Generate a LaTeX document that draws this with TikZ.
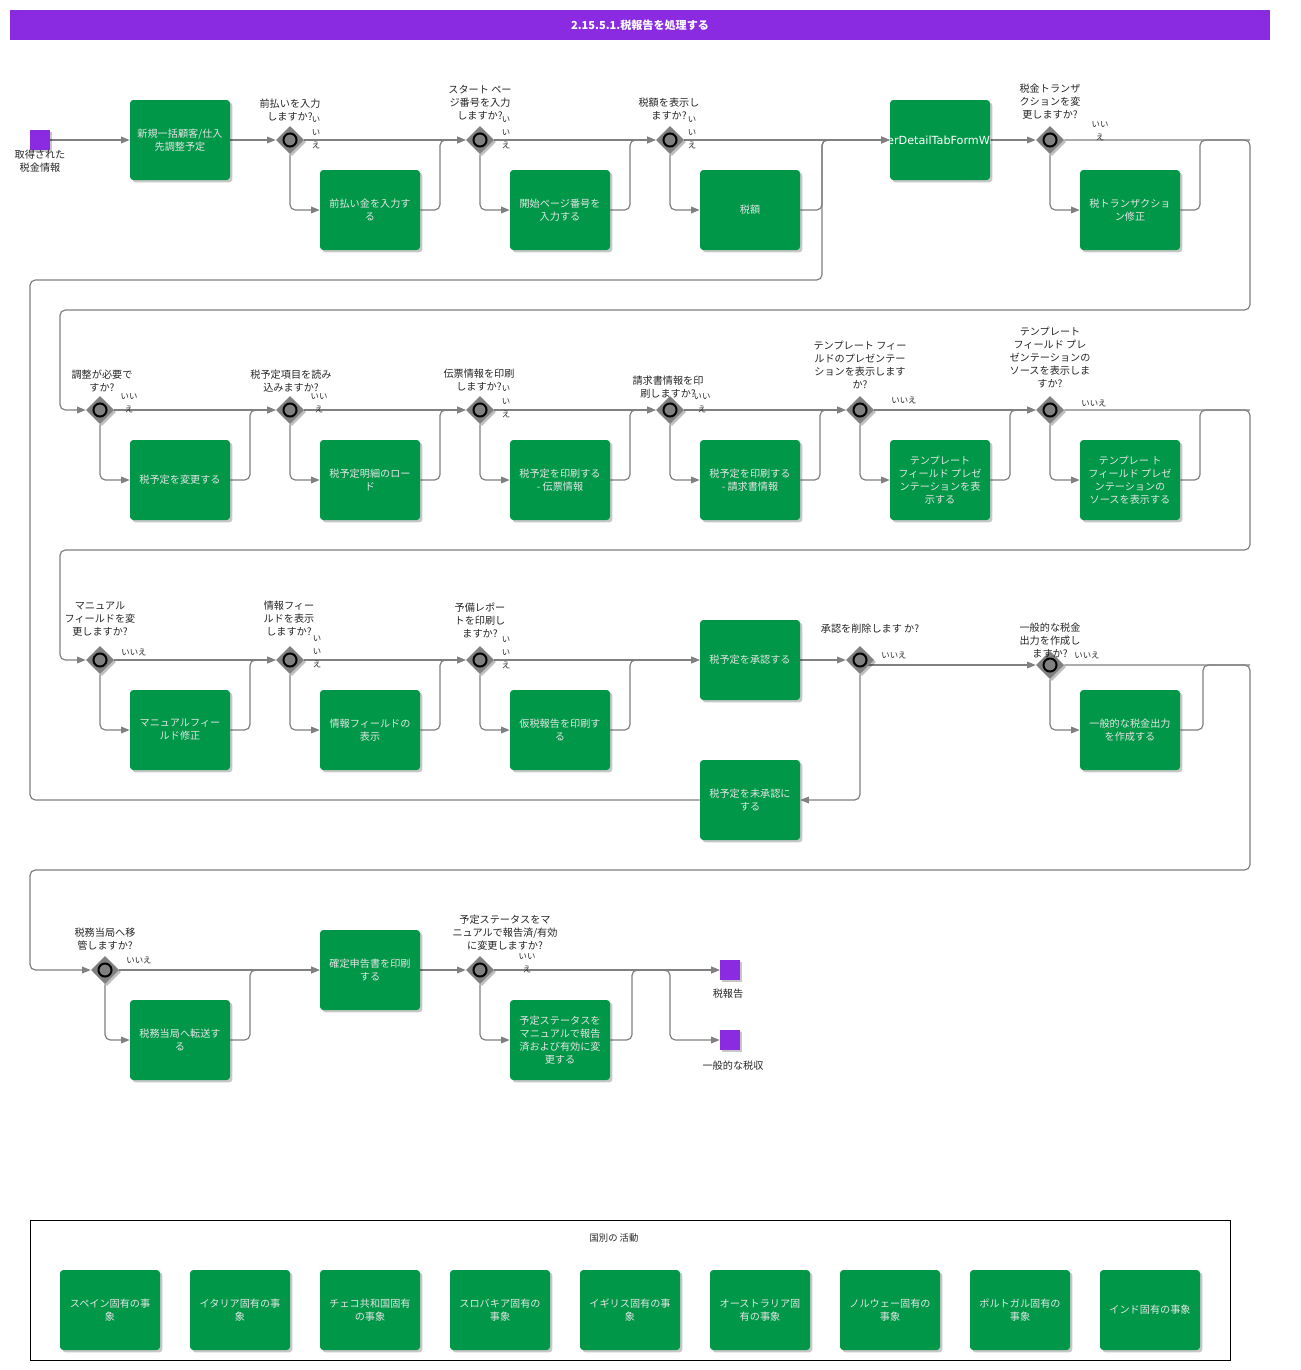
\documentclass[tikz,border=0pt]{standalone}
\usepackage{fontspec}
\setmainfont{Noto Sans CJK JP}
\newfontfamily\latinsans{DejaVu Sans}
\usetikzlibrary{arrows.meta,shadows,shapes.geometric}
\definecolor{bpurple}{RGB}{138,43,226}
\definecolor{tgreen}{RGB}{0,152,72}
\definecolor{lgray}{RGB}{128,128,128}
\definecolor{dgray}{RGB}{128,128,128}
\definecolor{ttext}{RGB}{228,228,228}
\pgfdeclarelayer{bg}
\pgfdeclarelayer{paper}
\pgfsetlayers{paper,bg,main}
\tikzset{
  task/.style={fill=tgreen, rounded corners=2.5pt, minimum width=75pt, minimum height=60pt,
    align=center, text=ttext, font=\fontsize{7.6}{9.75}\selectfont, inner sep=1pt,
    drop shadow={shadow xshift=1.8pt, shadow yshift=-1.8pt, fill=black, opacity=0.22}},
  gate/.style={diamond, fill=dgray, minimum width=21pt, minimum height=21pt, inner sep=0pt,
    drop shadow={shadow xshift=1.5pt, shadow yshift=-1.5pt, fill=black, opacity=0.25},
    path picture={\draw[black, line width=1.5pt, fill=lgray] (path picture bounding box.center) circle (4.9pt);}},
  event/.style={fill=bpurple, minimum width=15pt, minimum height=15pt, inner sep=0pt,
    drop shadow={shadow xshift=1.2pt, shadow yshift=-1.2pt, fill=black, opacity=0.22}},
  lbl/.style={font=\fontsize{7.6}{9.75}\selectfont, align=center, inner sep=0pt, text=black!85},
  nolbl/.style={font=\fontsize{6.3}{9.75}\selectfont, align=center, inner sep=0pt, text=black!85},
  flow/.style={draw=lgray, line width=0.9pt, rounded corners=4pt, -{Triangle[length=6.5pt,width=5pt]}},
  conn/.style={draw=lgray, line width=0.9pt, rounded corners=4pt},
  titlebar/.style={fill=bpurple, minimum width=945pt, minimum height=22.5pt, inner sep=0pt,
    text=white, font=\fontsize{8.3}{10}\selectfont\bfseries},
}
\begin{document}
\begin{tikzpicture}[x=0.75pt,y=-0.75pt]
\useasboundingbox (0,0) rectangle (1300,1370);
\begin{pgfonlayer}{paper}
\fill[white] (0,0) rectangle (1300,1370);
\end{pgfonlayer}

\node[titlebar] (title) at (640,25) {2.15.5.1.税報告を処理する};

% ---------- Row 1 ----------
\node[event] (s) at (40,140) {};
\node[lbl, anchor=south] (sl) at (40,173) {取得された\\税金情報};
\node[task] (t1) at (180,140) {新規一括顧客/仕入\\先調整予定};
\node[gate] (g1) at (290,140) {};
\node[task] (t2) at (370,210) {前払い金を入力す\\る};
\node[gate] (g2) at (480,140) {};
\node[task] (t3) at (560,210) {開始ページ番号を\\入力する};
\node[gate] (g3) at (670,140) {};
\node[task] (t4) at (750,210) {税額};
\node[task] (t5) at (940,140) {};
\begin{scope}
  \clip[rounded corners=2.5pt] (t5.south west) rectangle (t5.north east);
  \node[font=\latinsans\fontsize{8.4}{10}\selectfont, text=white, inner sep=0pt] (t5txt) at (t5.center) {erDetailTabFormWi};
\end{scope}
\node[gate] (g4) at (1050,140) {};
\node[task] (t6) at (1130,210) {税トランザクショ\\ン修正};

\node[lbl, anchor=south] (g1l) at (290,121) {前払いを入力\\しますか?};
\node[lbl, anchor=south] (g2l) at (480,120) {スタート ペー\\ジ番号を入力\\しますか?};
\node[lbl, anchor=south] (g3l) at (669,120) {税額を表示し\\ますか?};
\node[lbl, anchor=south] (g4l) at (1050,120) {税金トランザ\\クションを変\\更しますか?};
\node[nolbl] (g1n) at (316,133) {い\\い\\え};
\node[nolbl] (g2n) at (506,133) {い\\い\\え};
\node[nolbl] (g3n) at (692,133) {い\\い\\え};
\node[nolbl] (g4n) at (1100,131) {いい\\え};

% ---------- Row 2 ----------
\node[gate] (g5) at (100,410) {};
\node[task] (t7) at (180,480) {税予定を変更する};
\node[gate] (g6) at (290,410) {};
\node[task] (t8) at (370,480) {税予定明細のロー\\ド};
\node[gate] (g7) at (480,410) {};
\node[task] (t9) at (560,480) {税予定を印刷する\\- 伝票情報};
\node[gate] (g8) at (670,410) {};
\node[task] (t10) at (750,480) {税予定を印刷する\\- 請求書情報};
\node[gate] (g9) at (860,410) {};
\node[task] (t11) at (940,480) {テンプレート\\フィールド プレゼ\\ンテーションを表\\示する};
\node[gate] (g10) at (1050,410) {};
\node[task] (t12) at (1130,480) {テンプレー ト\\フィールド プレゼ\\ンテーションの\\ソースを表示する};

\node[lbl, anchor=south] (g5l) at (102,392) {調整が必要で\\すか?};
\node[lbl, anchor=south] (g6l) at (291,392) {税予定項目を読み\\込みますか?};
\node[lbl, anchor=south] (g7l) at (479,391) {伝票情報を印刷\\しますか?};
\node[lbl, anchor=south] (g8l) at (668,399) {請求書情報を印\\刷しますか?};
\node[nolbl] (g5n) at (129,403) {いい\\え};
\node[nolbl] (g6n) at (319,403) {いい\\え};
\node[nolbl] (g7n) at (506,402) {い\\い\\え};
\node[nolbl] (g8n) at (702,403) {いい\\え};
\node[lbl, anchor=south] (g9l) at (860,389) {テンプレート フィー\\ルドのプレゼンテー\\ションを表示します\\か?};
\node[lbl, anchor=south] (g10l) at (1050,388) {テンプレート\\フィールド プレ\\ゼンテーションの\\ソースを表示しま\\すか?};
\node[nolbl] (g9n) at (904,400) {いいえ};
\node[nolbl] (g10n) at (1094,403) {いいえ};

% ---------- Row 3 ----------
\node[gate] (g11) at (100,660) {};
\node[task] (t13) at (180,730) {マニュアルフィー\\ルド修正};
\node[gate] (g12) at (290,660) {};
\node[task] (t14) at (370,730) {情報フィールドの\\表示};
\node[gate] (g13) at (480,660) {};
\node[task] (t15) at (560,730) {仮税報告を印刷す\\る};
\node[task] (t16) at (750,660) {税予定を承認する};
\node[gate] (g14) at (860,660) {};
\node[task] (t20) at (750,800) {税予定を未承認に\\する};
\node[gate] (g15) at (1050,665) {};
\node[task] (t17) at (1130,730) {一般的な税金出力\\を作成する};

\node[lbl, anchor=south] (g11l) at (100,637) {マニュアル\\フィールドを変\\更しますか?};
\node[lbl, anchor=south] (g12l) at (289,636) {情報フィー\\ルドを表示\\しますか?};
\node[lbl, anchor=south] (g13l) at (480,638) {予備レポー\\トを印刷し\\ますか?};
\node[lbl, anchor=south] (g14l) at (870,634) {承認を削除します か?};
\node[lbl, anchor=south] (g15l) at (1050,658) {一般的な税金\\出力を作成し\\ますか?};
\node[nolbl] (g11n) at (134,652) {いいえ};
\node[nolbl] (g12n) at (317,652) {い\\い\\え};
\node[nolbl] (g13n) at (506,653) {い\\い\\え};
\node[nolbl] (g14n) at (894,655) {いいえ};
\node[nolbl] (g15n) at (1087,655) {いいえ};

% ---------- Row 4 ----------
\node[gate] (g16) at (105,970) {};
\node[task] (t18) at (180,1040) {税務当局へ転送す\\る};
\node[task] (t19) at (370,970) {確定申告書を印刷\\する};
\node[gate] (g17) at (480,970) {};
\node[task] (t21) at (560,1040) {予定ステータスを\\マニュアルで報告\\済および有効に変\\更する};
\node[event] (e1) at (730,970) {};
\node[event] (e2) at (730,1040) {};
\node[lbl] (e1l) at (728,994) {税報告};
\node[lbl] (e2l) at (733,1066) {一般的な税収};

\node[lbl, anchor=south] (g16l) at (105,951) {税務当局へ移\\管しますか?};
\node[lbl, anchor=south] (g17l) at (505,951) {予定ステータスをマ\\ニュアルで報告済/有効\\に変更しますか?};
\node[nolbl] (g16n) at (139,960) {いいえ};
\node[nolbl] (g17n) at (527,963) {いい\\え};

% ---------- Country box ----------
\node[draw=black, line width=0.6pt, minimum width=900pt, minimum height=105pt, inner sep=0pt] (cbox) at (630,1290) {};
\node[lbl, font=\fontsize{7}{9}\selectfont] (cboxl) at (614,1238) {国別の 活動};
\node[task] (c1t) at (110,1310) {スペイン固有の事\\象};
\node[task] (c2t) at (240,1310) {イタリア固有の事\\象};
\node[task] (c3t) at (370,1310) {チェコ共和国固有\\の事象};
\node[task] (c4t) at (500,1310) {スロバキア固有の\\事象};
\node[task] (c5t) at (630,1310) {イギリス固有の事\\象};
\node[task] (c6t) at (760,1310) {オーストラリア固\\有の事象};
\node[task] (c7t) at (890,1310) {ノルウェー固有の\\事象};
\node[task] (c8t) at (1020,1310) {ポルトガル固有の\\事象};
\node[task] (c9t) at (1150,1310) {インド固有の事象};

% ---------- Coordinates ----------
\coordinate (m1) at (440,140);
\coordinate (m2) at (630,140);
\coordinate (m3) at (822,140);
\coordinate (m4) at (1200,140);
\coordinate (l1) at (30,800);
\coordinate (l2) at (30,280);
\coordinate (l3) at (822,280);
\coordinate (k1) at (1250,140);
\coordinate (k2) at (1250,310);
\coordinate (k3) at (60,310);
\coordinate (k4) at (60,410);
\coordinate (m5) at (250,410);
\coordinate (m6) at (440,410);
\coordinate (m7) at (630,410);
\coordinate (m8) at (820,410);
\coordinate (m9) at (1010,410);
\coordinate (m10) at (1200,410);
\coordinate (k5) at (1250,410);
\coordinate (k6) at (1250,550);
\coordinate (k7) at (60,550);
\coordinate (k8) at (60,660);
\coordinate (m11) at (250,660);
\coordinate (m12) at (440,660);
\coordinate (m13) at (630,660);
\coordinate (m14) at (1203,665);
\coordinate (k9) at (1250,665);
\coordinate (k10) at (1250,870);
\coordinate (k11) at (30,870);
\coordinate (k12) at (30,970);
\coordinate (m15) at (250,970);
\coordinate (m16) at (632,970);
\coordinate (br0) at (660,970);
\coordinate (br) at (670,970);

\begin{pgfonlayer}{bg}
% Row 1
\draw[flow] (s) -- (t1);
\draw[flow] (t1) -- (g1);
\draw[flow] (g1.south) |- (t2.west);
\draw[flow] (g1.east) -- (g2.west);
\draw[flow] (t2.east) -| (m1) -- (g2.west);
\draw[flow] (g2.south) |- (t3.west);
\draw[flow] (g2.east) -- (g3.west);
\draw[flow] (t3.east) -| (m2) -- (g3.west);
\draw[flow] (g3.south) |- (t4.west);
\draw[flow] (g3.east) -- (t5.west);
\draw[flow] (t4.east) -| (m3) -- (t5.west);
\draw[flow] (t20.west) -- (l1) -- (l2) -- (l3) -- (m3) -- (t5.west);
\draw[flow] (t5) -- (g4);
\draw[flow] (g4.south) |- (t6.west);
\draw[flow] (g4.east) -- (k1) -- (k2) -- (k3) -- (k4) -- (g5.west);
\draw[conn] (t6.east) -| (m4) -- (k1);
% Row 2
\draw[flow] (g5.south) |- (t7.west);
\draw[flow] (g5.east) -- (g6.west);
\draw[flow] (t7.east) -| (m5) -- (g6.west);
\draw[flow] (g6.south) |- (t8.west);
\draw[flow] (g6.east) -- (g7.west);
\draw[flow] (t8.east) -| (m6) -- (g7.west);
\draw[flow] (g7.south) |- (t9.west);
\draw[flow] (g7.east) -- (g8.west);
\draw[flow] (t9.east) -| (m7) -- (g8.west);
\draw[flow] (g8.south) |- (t10.west);
\draw[flow] (g8.east) -- (g9.west);
\draw[flow] (t10.east) -| (m8) -- (g9.west);
\draw[flow] (g9.south) |- (t11.west);
\draw[flow] (g9.east) -- (g10.west);
\draw[flow] (t11.east) -| (m9) -- (g10.west);
\draw[flow] (g10.south) |- (t12.west);
\draw[flow] (g10.east) -- (k5) -- (k6) -- (k7) -- (k8) -- (g11.west);
\draw[conn] (t12.east) -| (m10) -- (k5);
% Row 3
\draw[flow] (g11.south) |- (t13.west);
\draw[flow] (g11.east) -- (g12.west);
\draw[flow] (t13.east) -| (m11) -- (g12.west);
\draw[flow] (g12.south) |- (t14.west);
\draw[flow] (g12.east) -- (g13.west);
\draw[flow] (t14.east) -| (m12) -- (g13.west);
\draw[flow] (g13.south) |- (t15.west);
\draw[flow] (g13.east) -- (t16.west);
\draw[flow] (t15.east) -| (m13) -- (t16.west);
\draw[flow] (t16) -- (g14);
\draw[flow] (g14.south) |- (t20.east);
\draw[flow] (g14.center |- g15.west) -- (g15.west);
\draw[flow] (g15.south) |- (t17.west);
\draw[flow] (g15.east) -- (k9) -- (k10) -- (k11) -- (k12) -- (g16.west);
\draw[conn] (t17.east) -| (m14) -- (k9);
% Row 4
\draw[flow] (g16.south) |- (t18.west);
\draw[flow] (g16.east) -- (t19.west);
\draw[flow] (t18.east) -| (m15) -- (t19.west);
\draw[flow] (t19) -- (g17);
\draw[flow] (g17.south) |- (t21.west);
\draw[flow] (g17.east) -- (e1.west);
\draw[flow] (t21.east) -| (m16) -- (e1.west);
\draw[flow] (br0) -- (br) |- (e2.west);
\end{pgfonlayer}
\end{tikzpicture}
\end{document}
